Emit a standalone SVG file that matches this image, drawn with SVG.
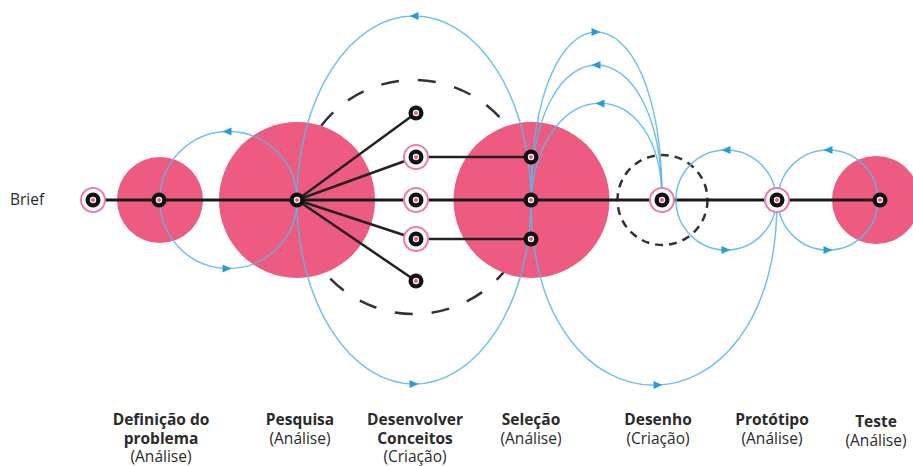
<svg xmlns="http://www.w3.org/2000/svg" width="913" height="466" viewBox="0 0 913 466">
<style>
.bg{fill:#ffffff}
.blob{fill:#ee5b80}
.dash1{fill:none;stroke:#333333;stroke-width:2.5;stroke-dasharray:18 19}
.dash2{fill:none;stroke:#333333;stroke-width:2.5;stroke-dasharray:8 6}
.edge{fill:none;stroke:#222222;stroke-width:2.5}
.main{fill:none;stroke:#1a1a1a;stroke-width:3}
.flow{fill:none;stroke:#5ab6e8;stroke-width:1.5;stroke-opacity:0.85}
.ah{fill:#2c9ada}
.ring{fill:#ffffff;stroke:#f27d9d;stroke-width:2}
.dot{fill:#111111}
.hole{fill:#ffffff}
.core{fill:#ee5b80}
.t{font-family:"Open Sans","Noto Sans","Liberation Sans",sans-serif;font-size:15.5px;fill:#2b2b2b;text-anchor:middle}
.b{font-weight:bold}
</style>
<defs>
<path id="ar" d="M-4.5,-4 L4.5,0 L-4.5,4 Z"/>
<g id="nd"><circle class="dot" r="7.5"/><circle class="hole" r="3.2"/><circle class="core" r="2"/></g>
<g id="nr"><circle class="ring" r="12"/><circle class="dot" r="7.5"/><circle class="hole" r="3.2"/><circle class="core" r="2"/></g>
</defs>
<rect class="bg" width="913" height="466"/>

<g id="guides">
<circle class="dash1" cx="414" cy="197" r="117"/>
<circle class="dash2" cx="662.5" cy="200" r="45"/>
</g>

<g id="areas">
<circle class="blob" cx="160" cy="200" r="43"/>
<circle class="blob" cx="297" cy="200" r="78"/>
<circle class="blob" cx="531.5" cy="200" r="78"/>
<circle class="blob" cx="876" cy="200" r="44"/>
</g>

<g id="connectors">
<line class="main" x1="93" y1="200" x2="880" y2="200"/>
<line class="edge" x1="297" y1="200" x2="416" y2="113"/>
<line class="edge" x1="297" y1="200" x2="416" y2="157"/>
<line class="edge" x1="297" y1="200" x2="416" y2="239"/>
<line class="edge" x1="297" y1="200" x2="416" y2="281"/>
<line class="edge" x1="416" y1="157" x2="531" y2="157"/>
<line class="edge" x1="416" y1="239" x2="531" y2="239"/>

<circle class="flow" cx="228.5" cy="200" r="68.5"/>
<ellipse class="flow" cx="414" cy="200" rx="117" ry="184"/>
<path class="flow" d="M531,200 C531,447 777,447 777,200"/>
<path class="flow" d="M531,200 C531,-24 662,-24 662,200"/>
<path class="flow" d="M531,200 C531,20 662,20 662,200"/>
<path class="flow" d="M531,200 C540,71 662,71 662,200"/>
<circle class="flow" cx="726" cy="200" r="50"/>
<circle class="flow" cx="828" cy="200" r="50"/>

<use href="#ar" class="ah" transform="translate(227,131.5) rotate(180)"/>
<use href="#ar" class="ah" transform="translate(227,268.5)"/>
<use href="#ar" class="ah" transform="translate(414,16) rotate(180)"/>
<use href="#ar" class="ah" transform="translate(414,384)"/>
<use href="#ar" class="ah" transform="translate(658,385)"/>
<use href="#ar" class="ah" transform="translate(596,32)"/>
<use href="#ar" class="ah" transform="translate(596,65) rotate(180)"/>
<use href="#ar" class="ah" transform="translate(600,103.5) rotate(180)"/>
<use href="#ar" class="ah" transform="translate(726,150) rotate(180)"/>
<use href="#ar" class="ah" transform="translate(726,250)"/>
<use href="#ar" class="ah" transform="translate(828,150) rotate(180)"/>
<use href="#ar" class="ah" transform="translate(828,250)"/>
</g>

<g id="brief"><use href="#nr" x="93" y="200"/><text class="t" x="10" y="205" style="text-anchor:start">Brief</text></g>
<g id="definicao"><use href="#nd" x="159" y="200"/>
<text class="t b" x="161" y="425">Definição do</text><text class="t b" x="161" y="444">problema</text><text class="t" x="161" y="462">(Análise)</text></g>
<g id="pesquisa"><use href="#nd" x="297" y="200"/>
<text class="t b" x="300" y="425">Pesquisa</text><text class="t" x="300" y="444">(Análise)</text></g>
<g id="conceitos">
<use href="#nd" x="416" y="113"/>
<use href="#nr" x="416" y="157"/>
<use href="#nr" x="416" y="200"/>
<use href="#nr" x="416" y="239"/>
<use href="#nd" x="416" y="281"/>
<text class="t b" x="415" y="425">Desenvolver</text><text class="t b" x="415" y="444">Conceitos</text><text class="t" x="415" y="462">(Criação)</text></g>
<g id="selecao">
<use href="#nd" x="531" y="157"/>
<use href="#nd" x="531" y="200"/>
<use href="#nd" x="531" y="239"/>
<text class="t b" x="531" y="425">Seleção</text><text class="t" x="531" y="444">(Análise)</text></g>
<g id="desenho"><use href="#nr" x="662" y="200"/>
<text class="t b" x="658" y="425">Desenho</text><text class="t" x="658" y="444">(Criação)</text></g>
<g id="prototipo"><use href="#nr" x="777" y="200"/>
<text class="t b" x="772" y="425">Protótipo</text><text class="t" x="772" y="444">(Análise)</text></g>
<g id="teste"><use href="#nd" x="880" y="200"/>
<text class="t b" x="876" y="427">Teste</text><text class="t" x="876" y="446">(Análise)</text></g>
</svg>
